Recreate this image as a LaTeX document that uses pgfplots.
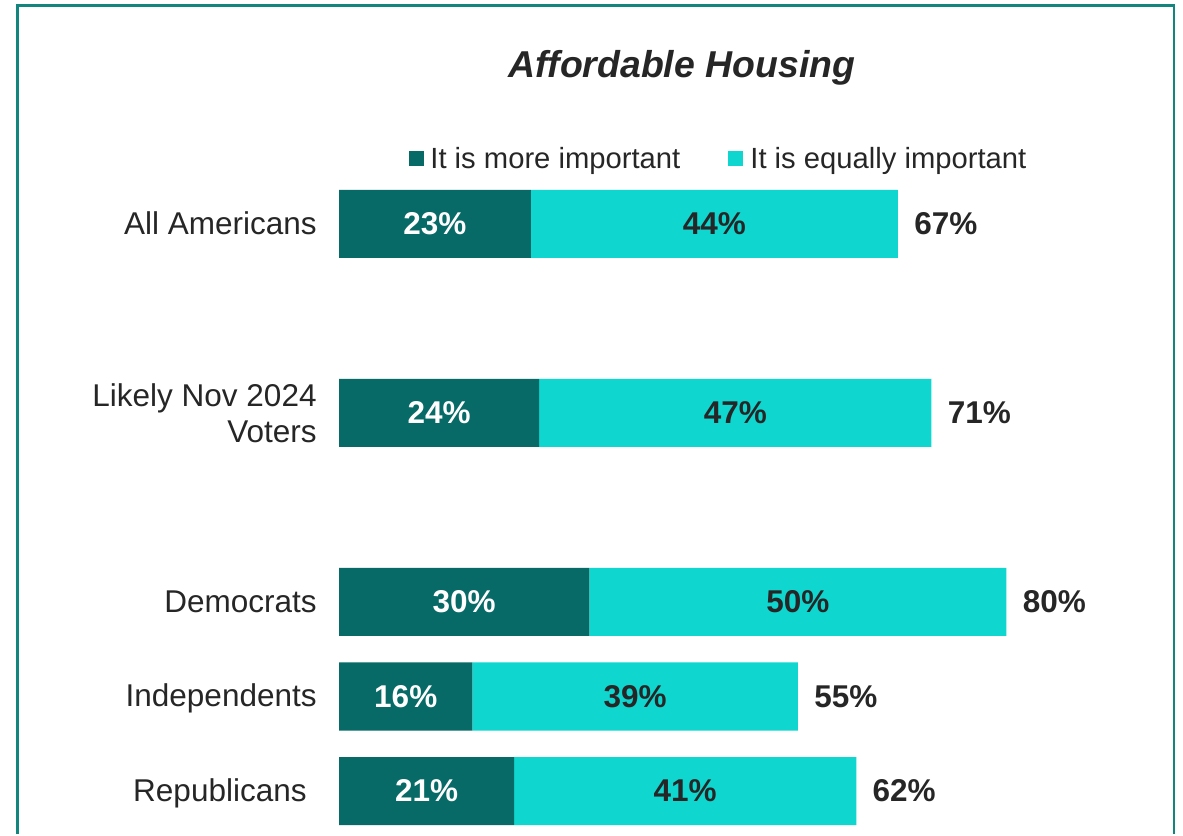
\documentclass[border=0pt]{standalone}
\usepackage{pgfplots}
\pgfplotsset{compat=1.18}
\usepackage{fontspec}
\setmainfont{Liberation Sans}
\definecolor{dk}{HTML}{076A66}
\definecolor{lt}{HTML}{0FD6CF}
\definecolor{fr}{HTML}{12857F}
\definecolor{tx}{HTML}{262626}
\tikzset{
  cat/.style={font=\fontsize{15.75}{18}\selectfont, text=tx, anchor=base east, inner sep=0pt},
  vw/.style={font=\bfseries\fontsize{15.75}{18}\selectfont, inner sep=0pt, text=white},
  vd/.style={font=\bfseries\fontsize{15.75}{18}\selectfont, inner sep=0pt, text=tx},
  vt/.style={font=\bfseries\fontsize{15.75}{18}\selectfont, inner sep=0pt, text=tx, anchor=west, xshift=8pt},
  lg/.style={font=\fontsize{14.6}{17}\selectfont, text=tx, anchor=base west, inner sep=0pt},
}
\begin{document}
\begin{tikzpicture}
\begin{axis}[scale only axis, width=591.5pt, height=417pt,
  xmin=-40.633, xmax=101.163, ymin=-0.4550, ymax=8.3704,
  hide axis, xbar stacked, bar width=34pt, clip=false]
\addplot[fill=dk, draw=none] coordinates {(21,0) (16,1) (30,2) (24,4) (23,6)};
\addplot[fill=lt, draw=none] coordinates {(41,0) (39,1) (50,2) (47,4) (44,6)};
\draw[fr, line width=1.4pt] (axis cs:-38.53,-0.4550) -- (axis cs:-38.53,8.312) -- (axis cs:100.08,8.312) -- (axis cs:100.08,-0.4550);
\path (rel axis cs:0,0) coordinate (SW) (rel axis cs:1,1) coordinate (NE);
% title
\node[font=\bfseries\itshape\fontsize{18.7}{21}\selectfont, text=tx, anchor=base, inner sep=0pt] at (axis cs:41.11,7.545) {Affordable Housing};
% legend
\fill[dk] (axis cs:8.39,6.772) rectangle (axis cs:10.19,6.614);
\node[lg] at (axis cs:10.91,6.582) {It is more important};
\fill[lt] (axis cs:46.63,6.772) rectangle (axis cs:48.42,6.614);
\node[lg] at (axis cs:49.26,6.582) {It is equally important};
% category labels
\node[cat] at (axis cs:-2.637,5.884) {All Americans};
\node[cat] at (axis cs:-2.637,4.074) {Likely Nov 2024};
\node[cat] at (axis cs:-2.637,3.683) {Voters};
\node[cat] at (axis cs:-2.637,1.884) {Democrats};
\node[cat] at (axis cs:-2.637,0.889) {Independents};
\node[cat] at (axis cs:-3.836,-0.116) {Republicans};
% value anchors
\coordinate (a1) at (axis cs:11.5,6);  \coordinate (b1) at (axis cs:45,6);   \coordinate (c1) at (axis cs:67,6);
\coordinate (a2) at (axis cs:12,4);    \coordinate (b2) at (axis cs:47.5,4); \coordinate (c2) at (axis cs:71,4);
\coordinate (a3) at (axis cs:15,2);    \coordinate (b3) at (axis cs:55,2);   \coordinate (c3) at (axis cs:80,2);
\coordinate (a4) at (axis cs:8,1);     \coordinate (b4) at (axis cs:35.5,1); \coordinate (c4) at (axis cs:55,1);
\coordinate (a5) at (axis cs:10.5,0);  \coordinate (b5) at (axis cs:41.5,0); \coordinate (c5) at (axis cs:62,0);
\end{axis}
\path[use as bounding box] (SW) rectangle (NE);
\node[vw] at (a1) {23\%}; \node[vd] at (b1) {44\%}; \node[vt] at (c1) {67\%};
\node[vw] at (a2) {24\%}; \node[vd] at (b2) {47\%}; \node[vt] at (c2) {71\%};
\node[vw] at (a3) {30\%}; \node[vd] at (b3) {50\%}; \node[vt] at (c3) {80\%};
\node[vw] at (a4) {16\%}; \node[vd] at (b4) {39\%}; \node[vt] at (c4) {55\%};
\node[vw] at (a5) {21\%}; \node[vd] at (b5) {41\%}; \node[vt] at (c5) {62\%};
\end{tikzpicture}
\end{document}
